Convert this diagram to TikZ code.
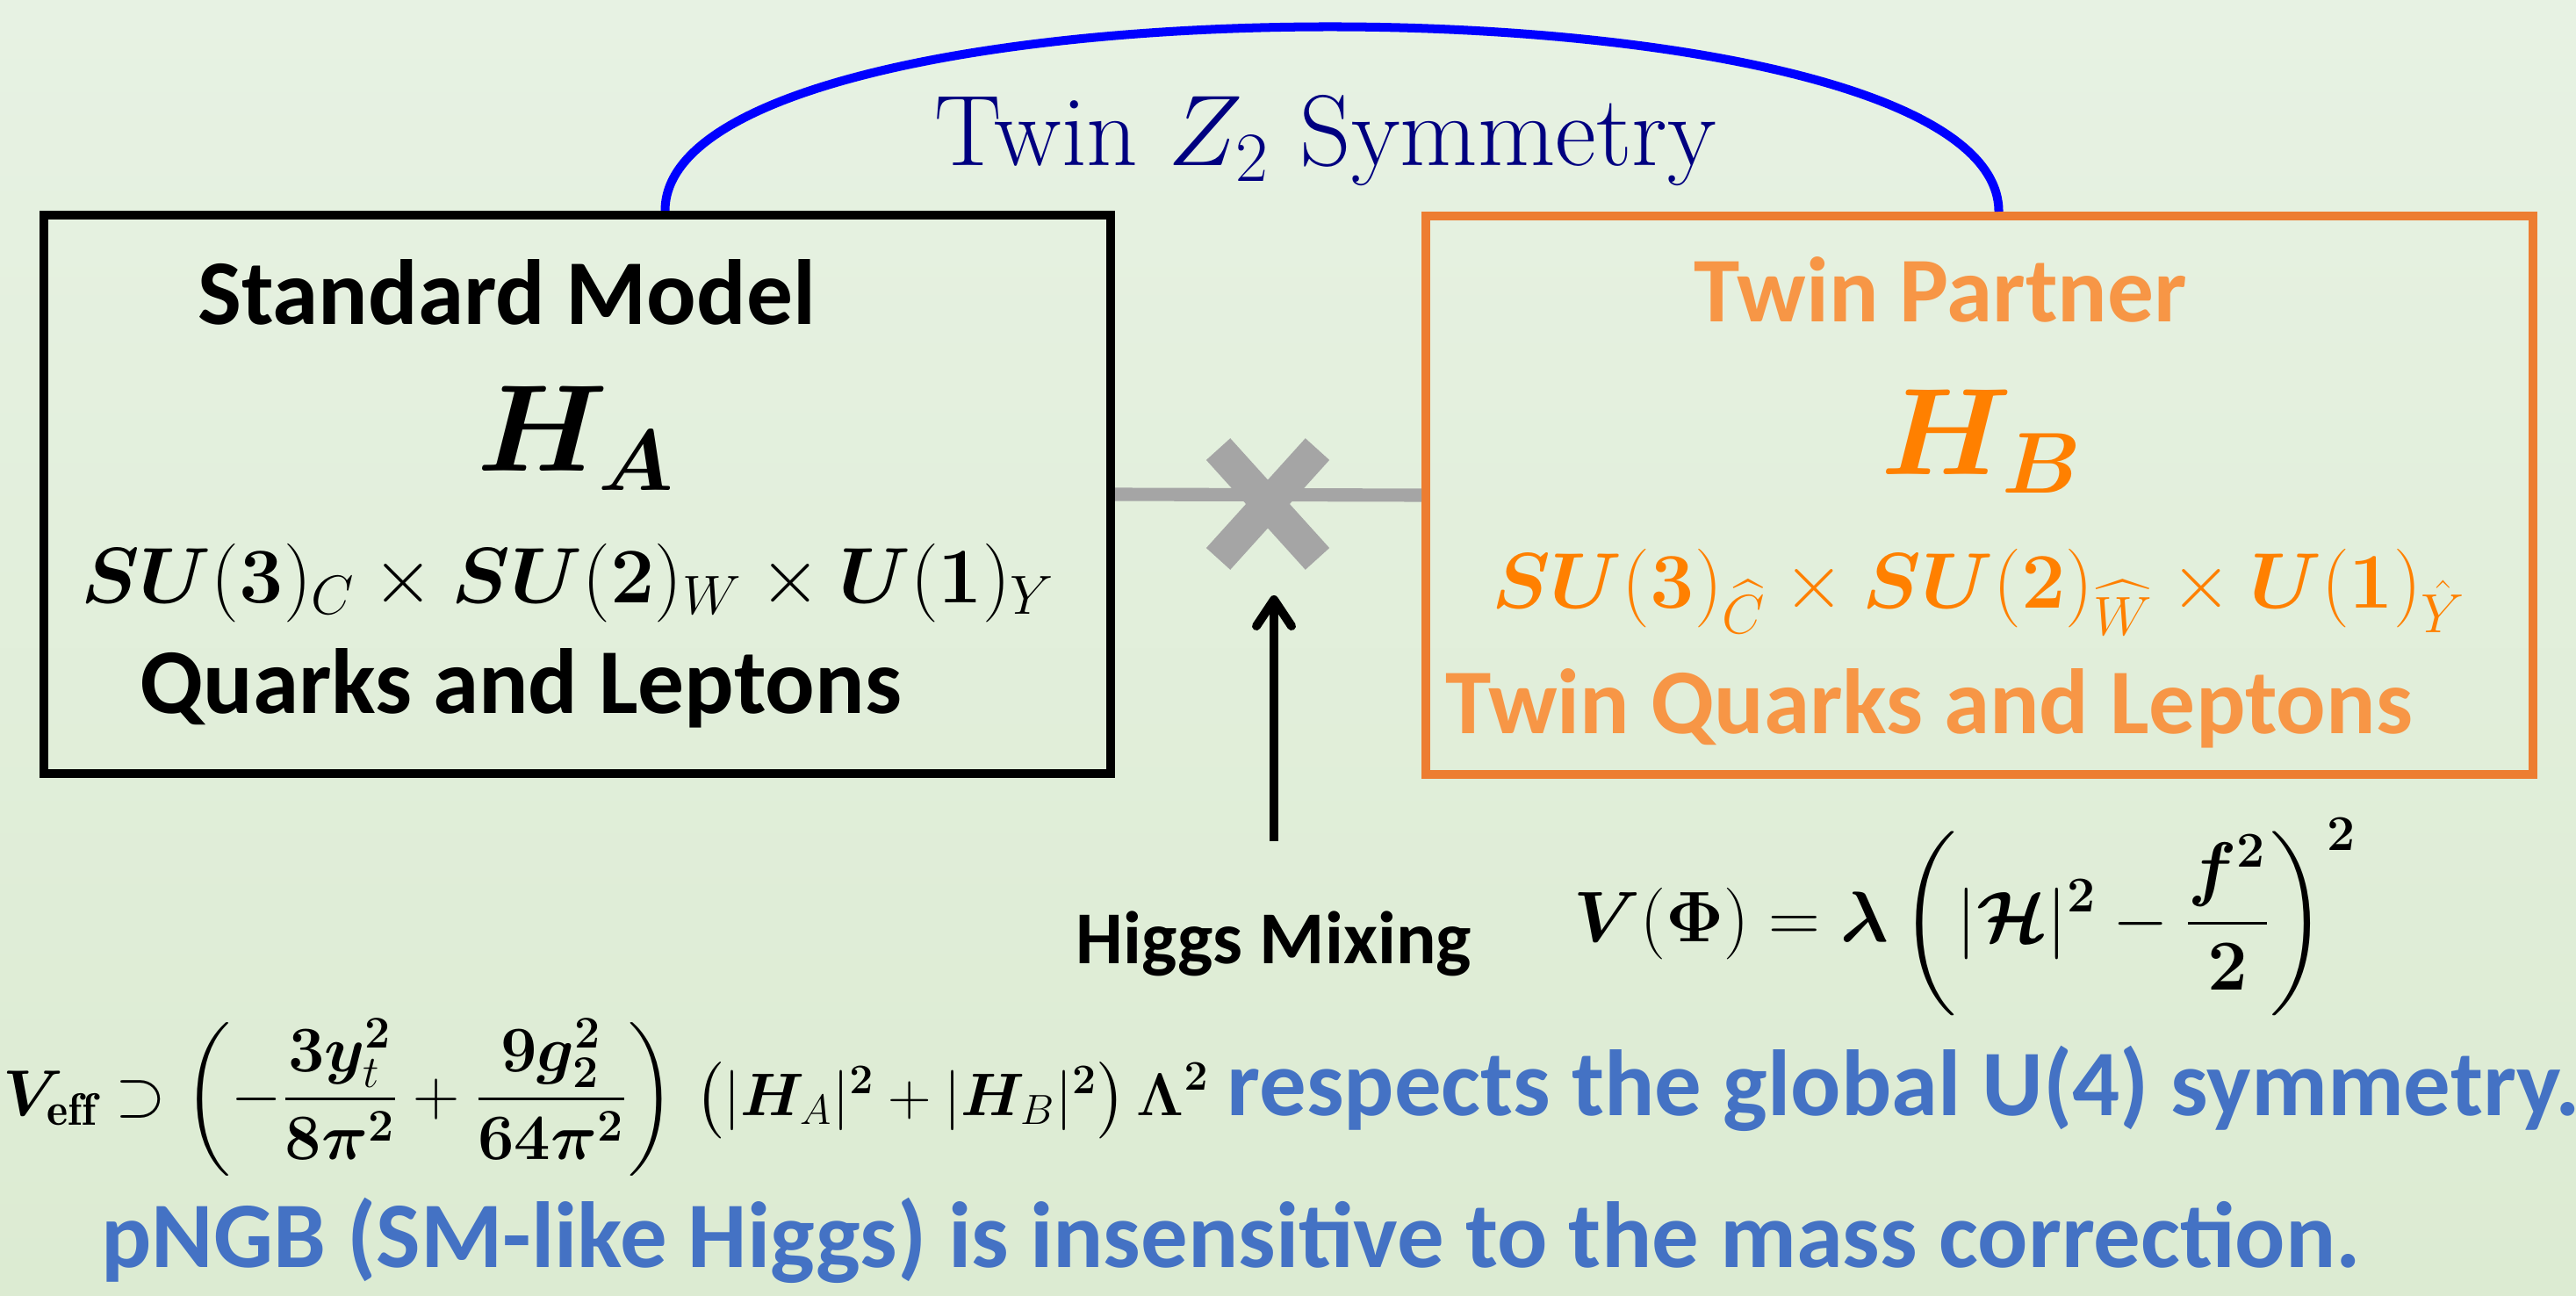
\RequirePackage{fix-cm}
\documentclass[tikz,border=0pt]{standalone}
\usepackage{amsmath}
\usepackage{bm}
\usepackage{fontspec}
\newfontfamily\cali{Carlito}
\usetikzlibrary{arrows.meta, positioning, calc, shapes.misc}
\definecolor{BgTop}{HTML}{E7F2E3}
\definecolor{BgBottom}{HTML}{DCEBD2}
\definecolor{TwinOrange}{HTML}{ED7D31}
\definecolor{TwinLight}{HTML}{F79646}
\definecolor{HiggsOrange}{HTML}{FF8000}
\definecolor{NoteBlue}{HTML}{4472C4}
\definecolor{SymNavy}{HTML}{000080}
\definecolor{ArcBlue}{HTML}{0000FF}
\definecolor{MixGray}{HTML}{A5A5A5}
\newcommand\labelsize{\fontsize{30}{36}\selectfont}
\newcommand\notesize{\fontsize{30.4}{36}\selectfont}
\newcommand\higgssize{\fontsize{40}{48}\selectfont}
\newcommand\groupsize{\fontsize{25.5}{31}\selectfont}
\newcommand\symsize{\fontsize{32.6}{39}\selectfont}
\newcommand\mixsize{\fontsize{24.2}{29}\selectfont}
\newcommand\potsize{\fontsize{23.2}{28}\selectfont}
\newcommand\effsize{\fontsize{21}{25}\selectfont}
\newcommand\sumsize{\fontsize{19.5}{23}\selectfont}

\begin{document}
\begin{tikzpicture}[
    sector/.style={draw=black, line width=2.85pt, minimum width=12.15cm, minimum height=6.36cm, inner sep=0pt},
    twinsector/.style={sector, draw=TwinOrange, minimum width=12.61cm},
    lbl/.style={anchor=base, inner sep=0pt, font=\cali\bfseries\labelsize},
    twinlbl/.style={lbl, text=TwinLight},
    notelbl/.style={lbl, text=NoteBlue, font=\cali\bfseries\notesize},
    mathlbl/.style={anchor=base, inner sep=0pt},
    mixline/.style={draw=MixGray, line width=4.3pt},
    uparrow/.style={-{Straight Barb[length=0.3cm, width=0.4cm, round]}, line width=2.85pt},
    z2arc/.style={draw=ArcBlue, line width=2.85pt}
  ]
    % Canvas
    \useasboundingbox (0,0) rectangle (29.34,-14.76);
    \fill[top color=BgTop, bottom color=BgBottom] (0,0) rectangle (29.34,-14.76);

    % Sectors
    \node[sector] (smbox) at (6.575,-5.63) {};
    \node[twinsector] (twbox) at (22.545,-5.64) {};

    % Standard Model side
    \node[lbl] (smtitle) at (5.77,-3.70) {Standard Model};
    \node[mathlbl, font=\higgssize] (hA) at (6.56,-5.37) {$\bm{H_A}$};
    \node[mathlbl, font=\groupsize] (smgroup) at (6.47,-6.86) {$\bm{SU}(\bm{3})_C\times\bm{SU}(\bm{2})_W\times\bm{U}(\bm{1})_Y$};
    \node[lbl] (smmatter) at (5.93,-8.12) {Quarks and Leptons};

    % Twin side
    \node[twinlbl] (twtitle) at (22.10,-3.67) {Twin Partner};
    \node[mathlbl, text=HiggsOrange, font=\higgssize] (hB) at (22.57,-5.40) {$\bm{H_B}$};
    \node[mathlbl, text=HiggsOrange, font=\groupsize] (twgroup) at (22.54,-6.92) {$\bm{SU}(\bm{3})_{\widehat{C}}\times\bm{SU}(\bm{2})_{\widehat{W}}\times\bm{U}(\bm{1})_{\hat{Y}}$};
    \node[twinlbl] (twmatter) at (21.97,-8.35) {Twin Quarks and Leptons};

    % Z2 arc
    \draw[z2arc] ([xshift=1cm]smbox.north) .. controls +(0,2.8) and +(0,2.8) .. ([xshift=0.22cm]twbox.north);
    \node[mathlbl, text=SymNavy, font=\symsize] (z2lbl) at (15.10,-1.89) {Twin $Z_2$ Symmetry};

    % Higgs mixing
    \draw[mixline] (smbox.east) -- (twbox.west);
    \node[cross out, draw=MixGray, line width=10.5pt, minimum width=0.76cm, minimum height=0.88cm, inner sep=0pt] (xmark) at (14.44,-5.74) {};
    \coordinate (armfoot) at (14.51,-9.58);
    \draw[uparrow] (armfoot) -- ++(0,2.8);
    \node[lbl, font=\cali\bfseries\mixsize] (mixlbl) at (14.51,-10.97) {Higgs Mixing};
    \node[mathlbl, font=\potsize] (potential) at (22.38,-10.72) {$\displaystyle\bm{V}(\bm{\Phi})=\bm{\lambda}\left(|\bm{\mathcal{H}}|^{\bm{2}}-\frac{\bm{f}^{\bm{2}}}{\bm{2}}\right)^{\bm{2}}$};

    % Effective potential
    \node[mathlbl, anchor=base east, font=\effsize] (veff) at (13.78,-12.70) {$\displaystyle\bm{V}_{\mathbf{eff}}\supset\left(-\frac{\bm{3y}_t^{\bm{2}}}{\bm{8\pi}^{\bm{2}}}+\frac{\bm{9g}_{\bm{2}}^{\bm{2}}}{\bm{64\pi}^{\bm{2}}}\right)$\hspace{0.3em}{\sumsize$\bigl(|\bm{H}_A|^{\bm{2}}+|\bm{H}_B|^{\bm{2}}\bigr)\,\bm{\Lambda}^{\bm{2}}$}};
    \node[notelbl, right=0.19cm of veff.base east, anchor=base west] (u4note) {respects the global U(4) symmetry.};
    \node[notelbl] (pngb) at (14.02,-14.43) {pNGB (SM-like Higgs) is insensitive to the mass correction.};
  \end{tikzpicture}
\end{document}
